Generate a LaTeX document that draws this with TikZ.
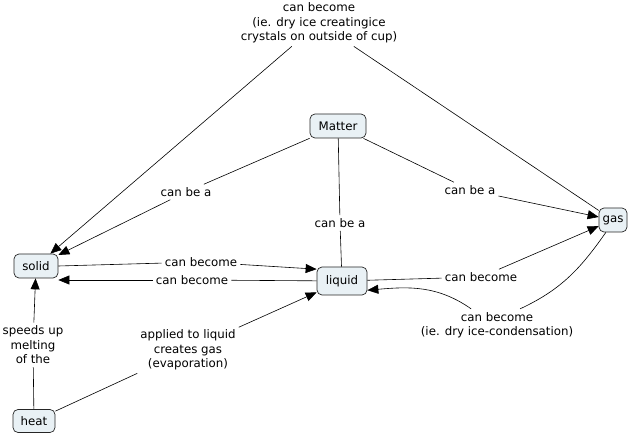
\documentclass[tikz,border=0pt]{standalone}
\usepackage{fontspec}
\setmainfont{DejaVu Sans}
\usetikzlibrary{positioning,calc,arrows.meta}
\definecolor{conceptfill}{RGB}{233,241,245}
\tikzstyle{concept} = [ draw=black!85, fill=conceptfill, rectangle, rounded corners=5pt, inner sep = 3pt, minimum height = 24pt, line width=0.7pt]
\tikzstyle{phrase} = [ rectangle, inner sep = 3pt, align=center]
\tikzstyle{edge} = [-{Triangle[length=11pt,width=9pt]}, line width=0.6pt]
\tikzstyle{plain} = [line width=0.6pt]

\begin{document}
\begin{tikzpicture}[x=1pt, y=1pt, font=\fontsize{11.8}{14.5}\selectfont]
	\useasboundingbox (0,0) rectangle (638,437);

	\node[concept, minimum width=56pt] (matter) at ( 338, 311 ) {Matter};
	\node[concept, minimum width=44pt] (solid) at ( 36, 171 ) {solid};
	\node[concept, minimum width=50pt, minimum height=28pt] (liquid) at ( 342, 156 ) {liquid};
	\node[concept, minimum width=28pt] (gas) at ( 613, 217 ) {gas};
	\node[concept, minimum width=42pt, minimum height=23pt] (heat) at ( 34, 16 ) {heat};

	\node[phrase] (dryice) at ( 319, 414 ) {can become\\(ie. dry ice creatingice\\crystals on outside of cup)};
	\node[phrase] (bea1) at ( 186, 245 ) {can be a};
	\node[phrase] (bea2) at ( 340, 214 ) {can be a};
	\node[phrase] (bea3) at ( 470, 247 ) {can be a};
	\node[phrase] (melt) at ( 201, 175 ) {can become};
	\node[phrase] (freeze) at ( 192, 157 ) {can become};
	\node[phrase] (boil) at ( 481, 160 ) {can become};
	\node[phrase] (cond) at ( 497, 112 ) {can become\\(ie. dry ice-condensation)};
	\node[phrase] (speeds) at ( 33, 92 ) {speeds up\\melting\\of the};
	\node[phrase] (applied) at ( 188, 87 ) {applied to liquid\\creates gas\\(evaporation)};

	\draw[plain](matter) -- (bea1);
	\draw[edge](bea1) -- (solid);
	\draw[plain](matter) -- (bea2);
	\draw[plain](bea2) -- (liquid);
	\draw[plain](matter) -- (bea3);
	\draw[edge](bea3) -- (gas);

	\draw[plain](gas) -- (dryice);
	\draw[edge](dryice) -- (solid);

	\draw[plain](solid.east) -- (melt);
	\draw[edge](melt) -- (liquid.155);
	\draw[plain](liquid) -- (freeze);
	\draw[edge](freeze) -- (solid.east |- freeze);
	\draw[plain](liquid) -- (boil);
	\draw[edge](boil) -- (gas);
	\draw[plain](gas.-120) to[out=-125, in=25] (cond.35);
	\draw[edge](cond.148) to[out=145, in=5] (liquid.-20);

	\draw[plain](heat) -- (speeds);
	\draw[edge](speeds) -- (solid);
	\draw[plain](heat) -- (applied);
	\draw[edge](applied) -- (liquid);
\end{tikzpicture}
\end{document}
